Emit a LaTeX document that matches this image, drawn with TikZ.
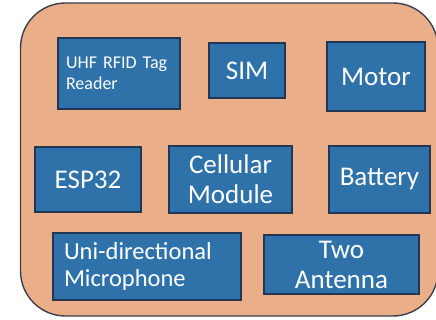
\documentclass[tikz,border=0pt]{standalone}
\usepackage{fontspec}
\setmainfont{Carlito}
\usepackage{xcolor}
\usepackage{tikz}
\usetikzlibrary{positioning}

\definecolor{casefill}{HTML}{EAAF89}
\definecolor{casedraw}{HTML}{3C3F4C}
\definecolor{partfill}{HTML}{2F72AA}
\definecolor{partdraw}{HTML}{233656}

\begin{document}
\begin{tikzpicture}[
  x=1pt,y=-1pt,
  case/.style={draw=casedraw,fill=casefill,line width=1.4pt,rounded corners=45pt},
  part/.style={draw=partdraw,fill=partfill,line width=1.2pt,text=white,
    inner sep=0pt,align=center,font=\fontsize{27}{30}\selectfont},
  leftpart/.style={part,align=left}]
  \useasboundingbox (0,0) rectangle (436,320);
  % outer case, right edge runs off the page
  \draw[case] (20.5,3) rectangle (438,316);
  % top row
  \node[leftpart,inner xsep=8pt,text width=106pt,minimum height=71pt,
    font=\fontsize{18}{21}\selectfont] (rfid) at (119,73.5) {UHF RFID Tag\\Reader};
  \node[part,minimum width=76pt,minimum height=55pt] (sim) at (247,70.5) {SIM};
  \node[part,minimum width=98pt,minimum height=69pt] (motor) at (376,76.5) {Motor};
  % middle row
  \node[part,minimum width=106pt,minimum height=65pt] (esp) at (88,179.5) {ESP32};
  \node[part,minimum width=123pt,minimum height=67pt] (cell) at (230.5,179.5) {Cellular\\Module};
  \node[part,minimum width=101pt,minimum height=67pt] (batt) at (379.5,179.5) {Battery};
  % bottom row
  \node[leftpart,inner xsep=11pt,text width=166pt,minimum height=67pt,
    font=\fontsize{24.5}{27}\selectfont] (mic) at (147,266.5) {Uni-directional\\Microphone};
  \node[part,minimum width=155pt,minimum height=59pt] (ant) at (341.5,264.5) {Two\\Antenna};
\end{tikzpicture}
\end{document}
